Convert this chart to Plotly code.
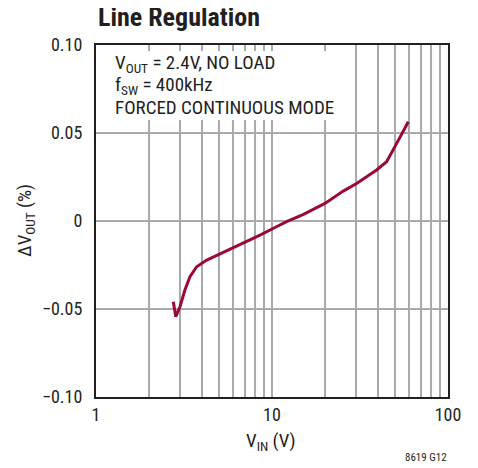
import plotly.graph_objects as go

vin = [2.75, 2.84, 3.0, 3.2, 3.42, 3.73, 4.26, 5.0, 6.03, 7.18, 8.55, 10.2, 12.1,
       15.1, 20.0, 25.4, 30.4, 39.3, 44.8, 51.1, 59.5]
dvout = [-0.0459, -0.0544, -0.0487, -0.0392, -0.0316, -0.026, -0.0222, -0.0189,
         -0.0155, -0.0118, -0.008, -0.0041, -0.0004, 0.0038, 0.010, 0.017,
         0.0214, 0.029, 0.0337, 0.0441, 0.0564]

x_tickvals = [1, 2, 3, 4, 5, 6, 7, 8, 9, 10, 20, 30, 40, 50, 60, 70, 80, 90, 100]
x_ticktext = ["1", "", "", "", "", "", "", "", "", "10", "", "", "", "", "", "", "", "", "100"]
y_tickvals = [-0.10, -0.05, 0, 0.05, 0.10]
y_ticktext = ["\u22120.10", "\u22120.05", "0", "0.05", "0.10"]

note_lines = ["V<sub>OUT</sub> = 2.4V, NO LOAD", "f<sub>SW</sub> = 400kHz", "FORCED CONTINUOUS MODE"]

FONT = "Liberation Sans Narrow, Roboto Condensed, Arial Narrow, Liberation Sans, sans-serif"
INK = "#231f20"

fig = go.Figure()
fig.add_trace(go.Scatter(x=vin, y=dvout, mode="lines",
                         line=dict(color="#9a0a34", width=3), showlegend=False))

annotations = []
for i, t in enumerate(note_lines):
    annotations.append(dict(text=t, xref="paper", yref="paper",
                            x=(113 - 96) / 352, y=1 - (19 + 21.5 * i) / 352,
                            xanchor="left", yanchor="middle", align="left",
                            showarrow=False,
                            font=dict(family=FONT, size=19, color=INK)))
annotations += [
    dict(text="V<sub>IN</sub> (V)", xref="paper", yref="paper",
         x=(271 - 96) / 352, y=(397 - 441) / 352, xanchor="center", yanchor="middle",
         showarrow=False, font=dict(family=FONT, size=19, color=INK)),
    dict(text="\u0394V<sub>OUT</sub> (%)", xref="paper", yref="paper", textangle=-90,
         x=(25 - 96) / 352, y=0.5, xanchor="center", yanchor="middle",
         showarrow=False, font=dict(family=FONT, size=19, color=INK)),
    dict(text="8619 G12", xref="paper", yref="paper",
         x=(449 - 96) / 352, y=(397 - 457) / 352, xanchor="right", yanchor="middle",
         showarrow=False, font=dict(family=FONT, size=11, color=INK)),
]

fig.update_layout(
    width=478, height=468,
    margin=dict(l=88, r=38, t=37, b=79),
    paper_bgcolor="white", plot_bgcolor="white",
    font=dict(family=FONT, size=18, color=INK),
    title=dict(text="<b>Line Regulation</b>", x=90 / 478, xanchor="left",
               y=1 - 9 / 468, yanchor="middle",
               font=dict(family=FONT, size=26, color=INK)),
    xaxis=dict(type="log", range=[0, 2], tickvals=x_tickvals, ticktext=x_ticktext,
               showgrid=True, gridcolor="#aaaaaa", gridwidth=1.5,
               showline=True, linecolor=INK, linewidth=2, mirror=True,
               ticks="", zeroline=False, tickfont=dict(size=18)),
    yaxis=dict(range=[-0.1, 0.1], tickvals=y_tickvals, ticktext=y_ticktext,
               showgrid=True, gridcolor="#aaaaaa", gridwidth=1.5,
               showline=True, linecolor=INK, linewidth=2, mirror=True,
               ticks="", zeroline=False, ticklabelstandoff=8, tickfont=dict(size=18)),
    shapes=[dict(type="rect", xref="paper", yref="paper",
                 x0=(100 - 96) / 352, x1=(340 - 96) / 352,
                 y0=1 - (120 - 45) / 352, y1=1 - (51 - 45) / 352,
                 fillcolor="white", line=dict(width=0), layer="above")],
    annotations=annotations,
)
fig.write_html("out.html")
